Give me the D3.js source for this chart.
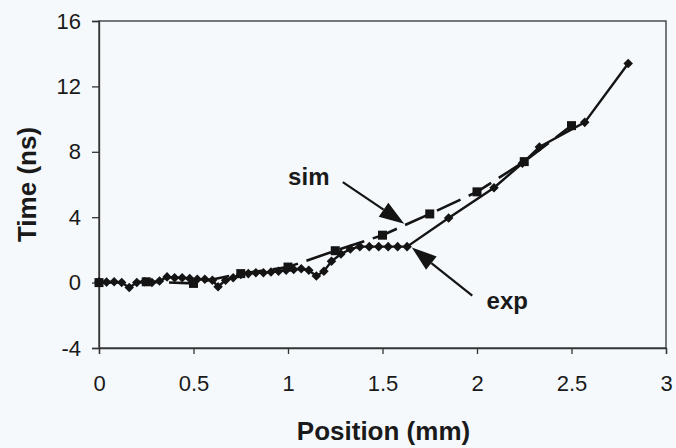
<!DOCTYPE html>
<html>
<head>
<meta charset="utf-8">
<script src="https://cdn.jsdelivr.net/npm/d3@7"></script>
<style>
  html, body { margin: 0; padding: 0; background: #f5f9fb; }
  svg { display: block; }
  text { font-family: "Liberation Sans", Arial, sans-serif; fill: #1a1a1a; }
</style>
</head>
<body>
<svg id="chart" width="676" height="448"></svg>
<script>
// Axis ticks
const xTicks = [0, 0.5, 1, 1.5, 2, 2.5, 3];
const xTickLabels = ["0", "0.5", "1", "1.5", "2", "2.5", "3"];
const yTicks = [-4, 0, 4, 8, 12, 16];
const yTickLabels = ["-4", "0", "4", "8", "12", "16"];

// Measured arrival time (exp)
const expX = [0.00, 0.04, 0.08, 0.12, 0.16, 0.20, 0.24, 0.28, 0.32, 0.36, 0.40, 0.44, 0.48,
              0.52, 0.56, 0.60, 0.63, 0.67, 0.71, 0.75, 0.79, 0.83, 0.87, 0.91, 0.95, 0.99,
              1.03, 1.07, 1.11, 1.15, 1.19, 1.23, 1.28, 1.33, 1.38, 1.43, 1.48, 1.53, 1.58,
              1.63, 1.85, 2.09, 2.24, 2.33, 2.57, 2.80];
const expY = [0.05, 0.03, 0.05, 0.00, -0.30, 0.00, 0.05, 0.00, 0.10, 0.35, 0.30, 0.30, 0.25,
              0.20, 0.20, 0.15, -0.25, 0.15, 0.30, 0.50, 0.55, 0.60, 0.60, 0.65, 0.70, 0.75,
              0.80, 0.85, 0.75, 0.40, 0.70, 1.30, 1.75, 2.05, 2.20, 2.20, 2.20, 2.20, 2.20,
              2.20, 3.95, 5.80, 7.30, 8.30, 9.80, 13.40];

// Simulated arrival time (sim)
const simX = [0.00, 0.25, 0.50, 0.75, 1.00, 1.25, 1.50, 1.75, 2.00, 2.25, 2.50];
const simY = [0.00, 0.05, -0.05, 0.55, 0.95, 1.95, 2.90, 4.20, 5.55, 7.40, 9.60];

// Axis titles and callouts
const xTitle = "Position (mm)";
const yTitle = "Time (ns)";
const callouts = [
  { label: "sim", text: [1.11, 6.0], tail: [1.29, 6.15], tip: [1.615, 3.6] },
  { label: "exp", text: [2.16, -1.6], tail: [1.975, -0.8], tip: [1.655, 2.15] }
];

const svg = d3.select("#chart");
const plotLeft = 99, plotRight = 666, plotTop = 21, plotBottom = 348;

const x = d3.scaleLinear().domain([0, 3]).range([plotLeft, plotRight]);
const y = d3.scaleLinear().domain([-4, 16]).range([plotBottom, plotTop]);

const axisInk = "#333";

// Plot frame
svg.append("rect")
  .attr("x", plotLeft).attr("y", plotTop)
  .attr("width", plotRight - plotLeft).attr("height", plotBottom - plotTop)
  .attr("fill", "none").attr("stroke", axisInk).attr("stroke-width", 1.3);

// Y axis
const yAxis = svg.append("g")
  .attr("transform", `translate(${plotLeft},0)`)
  .call(d3.axisLeft(y).tickValues(yTicks).tickSize(7).tickPadding(11)
        .tickFormat((d, i) => yTickLabels[i]));
yAxis.select(".domain").attr("stroke", axisInk).attr("stroke-width", 1.3);
yAxis.selectAll(".tick line").attr("stroke", axisInk).attr("stroke-width", 1.3);
yAxis.selectAll(".tick text").attr("font-size", 22).attr("fill", "#1a1a1a")
  .style("font-family", "'Liberation Sans', Arial, sans-serif");

// X axis
const xAxis = svg.append("g")
  .attr("transform", `translate(0,${plotBottom})`)
  .call(d3.axisBottom(x).tickValues(xTicks).tickSize(6).tickPadding(21)
        .tickFormat((d, i) => xTickLabels[i]));
xAxis.select(".domain").attr("stroke", axisInk).attr("stroke-width", 1.3);
xAxis.selectAll(".tick line").attr("stroke", axisInk).attr("stroke-width", 1.3);
xAxis.selectAll(".tick text").attr("font-size", 22).attr("fill", "#1a1a1a")
  .style("font-family", "'Liberation Sans', Arial, sans-serif");

// Axis titles
svg.append("text")
  .attr("x", (plotLeft + plotRight) / 2 + 1).attr("y", 440)
  .attr("text-anchor", "middle")
  .attr("font-size", 26).attr("font-weight", "bold")
  .text(xTitle);
svg.append("text")
  .attr("transform", `translate(36,${(plotTop + plotBottom) / 2}) rotate(-90)`)
  .attr("text-anchor", "middle")
  .attr("font-size", 26).attr("font-weight", "bold")
  .text(yTitle);

const ink = "#141414";

// Series lines
const expData = expX.map((v, i) => [v, expY[i]]);
const simData = simX.map((v, i) => [v, simY[i]]);
const line = d3.line().x(d => x(d[0])).y(d => y(d[1]));

svg.append("path").datum(simData)
  .attr("d", line).attr("fill", "none")
  .attr("stroke", ink).attr("stroke-width", 2.6)
  .attr("stroke-dasharray", "26,9");

svg.append("path").datum(expData)
  .attr("d", line).attr("fill", "none")
  .attr("stroke", ink).attr("stroke-width", 2.4);

// Markers
svg.append("g").selectAll("path").data(simData).join("path")
  .attr("d", d3.symbol(d3.symbolSquare, 81))
  .attr("transform", d => `translate(${x(d[0])},${y(d[1])})`)
  .attr("fill", ink);

svg.append("g").selectAll("path").data(expData).join("path")
  .attr("d", d3.symbol(d3.symbolDiamond2, 58))
  .attr("transform", d => `translate(${x(d[0])},${y(d[1])})`)
  .attr("fill", ink);

// Callout arrows and labels
const headLen = 25, headHalf = 8.5;
callouts.forEach(c => {
  const tx = x(c.tail[0]), ty = y(c.tail[1]);
  const px = x(c.tip[0]), py = y(c.tip[1]);
  const len = Math.hypot(px - tx, py - ty);
  const ux = (px - tx) / len, uy = (py - ty) / len;
  const bx = px - ux * headLen, by = py - uy * headLen;
  svg.append("line")
    .attr("x1", tx).attr("y1", ty).attr("x2", bx).attr("y2", by)
    .attr("stroke", ink).attr("stroke-width", 2.2);
  svg.append("path")
    .attr("d", `M${px},${py}L${bx - uy * headHalf},${by + ux * headHalf}L${bx + uy * headHalf},${by - ux * headHalf}Z`)
    .attr("fill", ink);
  svg.append("text")
    .attr("x", x(c.text[0])).attr("y", y(c.text[1]))
    .attr("text-anchor", "middle")
    .attr("font-size", 24).attr("font-weight", "bold")
    .text(c.label);
});
</script>
</body>
</html>
